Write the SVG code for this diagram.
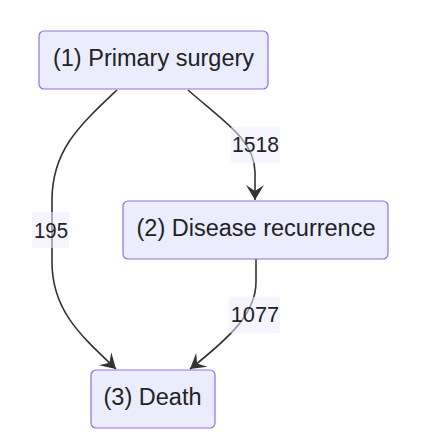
<svg xmlns="http://www.w3.org/2000/svg" width="428" height="432" viewBox="0 0 428 432">
<style>
.node rect{fill:#ECECFF;stroke:#9370DB;stroke-width:1.2}
.node text{font-family:"Liberation Sans",Arial,sans-serif;font-size:23.5px;fill:#222;text-anchor:middle}
.edge{fill:none;stroke:#333;stroke-width:1.6;marker-end:url(#arrow)}
.lbl rect{fill:#ECECFF;opacity:0.55}
.lbl text{font-family:"Liberation Sans",Arial,sans-serif;font-size:22.5px;fill:#222;text-anchor:middle}
</style>
<defs>
<marker id="arrow" markerUnits="userSpaceOnUse" markerWidth="20" markerHeight="20" viewBox="-16 -10 18 20" refX="0" refY="0" orient="auto">
<path d="M0,0 L-15,-9 L-9,0 L-15,9 Z" fill="#333"/>
</marker>
</defs>
<rect width="428" height="432" fill="#fff"/>
<g id="connectors">
<path class="edge" d="M117,90 C80,125 52,150 52,200 L52,262 C52,310 80,335 116,369"/>
<path class="edge" d="M188,90 C222,120 255,140 255,172 L255,200"/>
<path class="edge" d="M256,259 L256,282 C256,312 232,336 190,369"/>
<g class="lbl"><rect x="32" y="212" width="37" height="36"/><text x="51" y="238" textLength="34" lengthAdjust="spacingAndGlyphs">195</text></g>
<g class="lbl"><rect x="231" y="127" width="49" height="36"/><text x="255.5" y="151.5" textLength="47" lengthAdjust="spacingAndGlyphs">1518</text></g>
<g class="lbl"><rect x="229" y="297" width="51" height="36"/><text x="255" y="321.5" textLength="48.5" lengthAdjust="spacingAndGlyphs">1077</text></g>
</g>
<g id="n1" class="node"><rect x="39" y="31" width="229" height="58" rx="5"/><text x="153.5" y="66">(1) Primary surgery</text></g>
<g id="n2" class="node"><rect x="123" y="201" width="265" height="58" rx="5"/><text x="256" y="236">(2) Disease recurrence</text></g>
<g id="n3" class="node"><rect x="91" y="370" width="124" height="58" rx="5"/><text x="152.5" y="405">(3) Death</text></g>
</svg>
